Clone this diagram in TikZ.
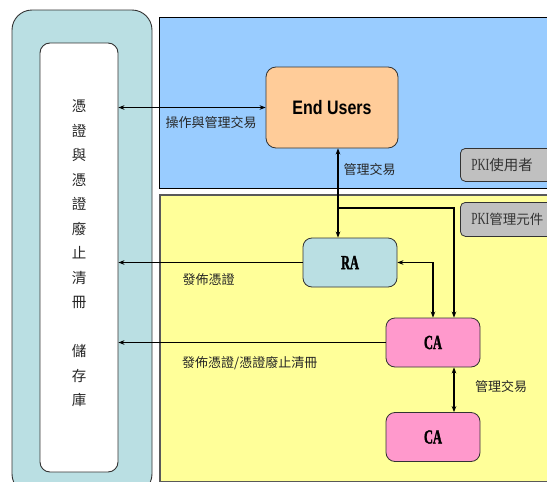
\documentclass[tikz,border=0pt]{standalone}
\usepackage{fontspec}
\newfontfamily\cjk{Noto Sans CJK TC}
\newfontfamily\eusfont[FakeStretch=0.82]{Liberation Sans}
\newfontfamily\boxserif[FakeStretch=0.62,FakeBold=1.5]{Liberation Serif}
\newfontfamily\tagserif[FakeStretch=0.66]{Liberation Serif}
\usetikzlibrary{arrows.meta,calc}

\definecolor{skyfill}{HTML}{99CCFF}
\definecolor{lemonfill}{HTML}{FFFF99}
\definecolor{peachfill}{HTML}{FFCC99}
\definecolor{aquafill}{HTML}{BADFE3}
\definecolor{pinkfill}{HTML}{FF99CC}
\definecolor{tagfill}{HTML}{C0C0C0}
\definecolor{edge}{HTML}{333333}

\tikzset{
  tip/.tip={Stealth[length=6pt,width=4.6pt]},
  conn/.style={line width=1.6pt, draw=black},
  both/.style={conn, tip-tip},
  one/.style={conn, -tip},
  lbl/.style={font=\cjk\fontsize{13}{13}\selectfont, inner sep=0pt, text=black!85},
  entity/.style={draw=edge, line width=0.8pt, rounded corners=9pt,
    minimum width=94pt, minimum height=49pt, inner sep=0pt,
    font=\boxserif\bfseries\fontsize{20}{20}\selectfont},
  tagbox/.style={draw=edge, line width=0.8pt, fill=tagfill, rounded corners=5pt,
    anchor=north west, inner xsep=11pt, inner ysep=0pt, text width=90pt, align=left,
    text=black!80},
  panel/.style={anchor=north west, inner sep=0pt},
}

\begin{document}
\begin{tikzpicture}[x=1pt, y=-1pt]
\useasboundingbox (0,0) rectangle (547,482);
\clip (0,0) rectangle (547,482);

% repository column
\node[draw=edge, line width=0.9pt, fill=aquafill, rounded corners=20pt,
      minimum width=140pt, minimum height=484pt, inner sep=0pt] (store) at (82,252) {};
\node[draw=edge, line width=0.9pt, fill=white, rounded corners=10pt,
      minimum width=78pt, minimum height=429pt, inner sep=0pt] (repo) at (79,257.5) {};
\node[font=\cjk\fontsize{14.5}{24.5}\selectfont, align=center, inner sep=0pt, text=black!85]
  (repotext) at (79,253.5)
  {憑\\證\\與\\憑\\證\\廢\\止\\清\\冊\\[24.5pt]儲\\存\\庫};

% user and management zones
\node[panel, draw=black, line width=0.9pt, fill=skyfill,
      minimum width=401pt, minimum height=171pt] (userzone) at (159,17) {};
\node[panel, draw=black!65, line width=2pt, fill=lemonfill,
      minimum width=401pt, minimum height=287pt] (mgmtzone) at (159,194) {};

\node[tagbox, minimum height=33pt, font=\cjk\fontsize{14.5}{14.5}\selectfont] (usertag) at (460,148)
  {{\tagserif\fontsize{17}{17}\selectfont PKI}使用者};
\node[tagbox, minimum height=34pt, font=\cjk\fontsize{13.5}{13.5}\selectfont] (mgmttag) at (460,202)
  {{\tagserif\fontsize{17}{17}\selectfont PKI}管理元件};

% entities
\node[draw=edge, line width=0.8pt, fill=peachfill, rounded corners=10pt,
      minimum width=132pt, minimum height=81pt, inner sep=0pt,
      font=\eusfont\bfseries\fontsize{19.5}{19.5}\selectfont] (eu) at (332,107.5) {End Users};
\node[entity, fill=aquafill] (ra) at (350,262.5) {RA};
\node[entity, fill=pinkfill] (ca1) at (433,342.5) {CA};
\node[entity, fill=pinkfill] (ca2) at (433,437) {CA};

% connectors
\coordinate (tap) at (338,208);
\coordinate (catap) at (454,208);
\draw[both] (repo.east |- eu.west) -- (eu.west);
\draw[both] (eu.south -| tap) -- (ra.north -| tap);
\draw[one] (tap) -- (catap) -- (ca1.north -| catap);
\draw[both] (ra.east) -| (ca1.north);
\draw[one] (ra.west) -- (ra.west -| repo.east);
\draw[one] (ca1.west) -- (ca1.west -| repo.east);
\draw[both] (ca1.south -| catap) -- (ca2.north -| catap);

% labels
\node[lbl] (opslbl) at (211,123) {操作與管理交易};
\node[lbl] (mgmt1) at (369.5,170) {管理交易};
\node[lbl] (pub1) at (208.5,280) {發佈憑證};
\node[lbl, anchor=west] (pub2) at (182,363) {發佈憑證/憑證廢止清冊};
\node[lbl] (mgmt2) at (501,387) {管理交易};
\end{tikzpicture}
\end{document}
